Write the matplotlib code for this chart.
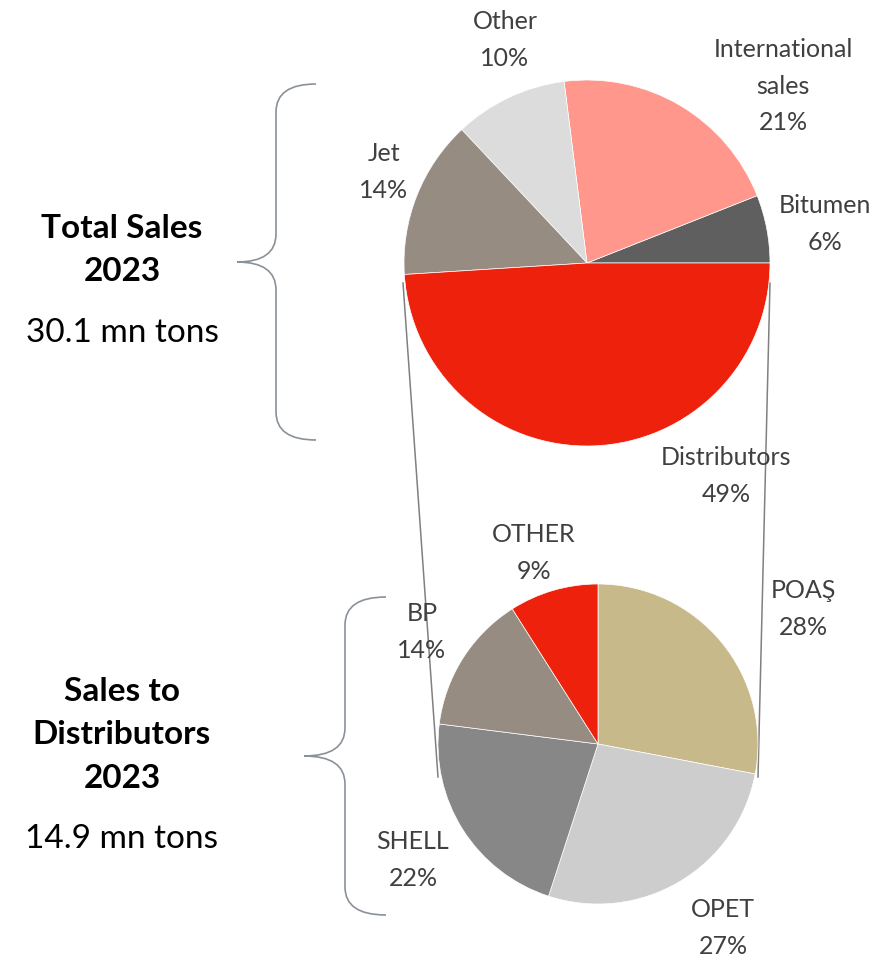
import matplotlib
matplotlib.use("Agg")
import matplotlib.pyplot as plt
from matplotlib.path import Path
from matplotlib.patches import PathPatch

plt.rcParams['font.family'] = ['Lato', 'DejaVu Sans']

# Total sales 2023 split (%)
total_labels = ['Bitumen', 'International\nsales', 'Other', 'Jet', 'Distributors']
total_values = [6, 21, 10, 14, 49]
total_colors = ['#5f5f5f', '#ff978d', '#dcdcdc', '#968c82', '#ee220c']

# Sales to distributors 2023 split (%)
dist_labels = ['POAŞ', 'OPET', 'SHELL', 'BP', 'OTHER']
dist_values = [28, 27, 22, 14, 9]
dist_colors = ['#c8b98b', '#cdcdcd', '#878787', '#968c82', '#ee220c']

W, H = 887, 958
fig = plt.figure(figsize=(W / 100, H / 100), dpi=100)
ax = fig.add_axes([0, 0, 1, 1])

def Y(y):
    # image pixel row -> axes y (y up)
    return H - y

# pies
ax.pie(total_values, colors=total_colors, startangle=0, counterclock=True,
       center=(587, Y(263)), radius=183, frame=True,
       wedgeprops=dict(edgecolor='white', linewidth=0.5))
ax.pie(dist_values, colors=dist_colors, startangle=90, counterclock=False,
       center=(598, Y(744)), radius=160, frame=True,
       wedgeprops=dict(edgecolor='white', linewidth=0.5))

# connector lines between the pies
ax.plot([403, 438], [Y(283), Y(777)], color='#808080', lw=1.1, zorder=0)
ax.plot([770, 758], [Y(283), Y(777)], color='#808080', lw=1.1, zorder=0)

# slice labels
lab_col = '#404040'
lab_fs = 18
total_pos = [(825, 224), (783, 86), (505, 40), (384, 172), (726, 476)]
for name, v, (x, y) in zip(total_labels, total_values, total_pos):
    ax.text(x, Y(y), f'{name}\n{v}%', ha='center', va='center', fontsize=lab_fs,
            color=lab_col, linespacing=1.7)
dist_pos = [(803, 609), (723, 928), (413, 860), (422, 632), (534, 553)]
for name, v, (x, y) in zip(dist_labels, dist_values, dist_pos):
    ax.text(x, Y(y), f'{name}\n{v}%', ha='center', va='center', fontsize=lab_fs,
            color=lab_col, linespacing=1.7)

# curly braces
def brace(x_end, x_mid, x_tip, y_top, y_bot, r=28):
    y_c = (y_top + y_bot) / 2
    verts = [(x_end, Y(y_top)), (x_mid, Y(y_top)), (x_mid, Y(y_top + r)),
             (x_mid, Y(y_c - r)),
             (x_mid, Y(y_c)), (x_tip, Y(y_c)),
             (x_mid, Y(y_c)), (x_mid, Y(y_c + r)),
             (x_mid, Y(y_bot - r)),
             (x_mid, Y(y_bot)), (x_end, Y(y_bot))]
    codes = [Path.MOVETO, Path.CURVE3, Path.CURVE3, Path.LINETO,
             Path.CURVE3, Path.CURVE3, Path.CURVE3, Path.CURVE3,
             Path.LINETO, Path.CURVE3, Path.CURVE3]
    ax.add_patch(PathPatch(Path(verts, codes), facecolor='none',
                           edgecolor='#8a9199', lw=1.2))

brace(316, 276, 237, 84, 440)
brace(386, 345, 304, 597, 915)

# side titles
title_fs = 24
ax.text(122, Y(250), 'Total Sales\n2023', ha='center', va='center', fontsize=title_fs,
        fontweight='bold', color='black', linespacing=1.6)
ax.text(122, Y(333), '30.1 mn tons', ha='center', va='center', fontsize=title_fs,
        color='black')
ax.text(122, Y(735), 'Sales to\nDistributors\n2023', ha='center', va='center',
        fontsize=title_fs, fontweight='bold', color='black', linespacing=1.6)
ax.text(122, Y(839), '14.9 mn tons', ha='center', va='center', fontsize=title_fs,
        color='black')

ax.set_xlim(0, W)
ax.set_ylim(0, H)
ax.set_aspect('equal')
ax.axis('off')
fig.savefig('out.png', dpi=100)
